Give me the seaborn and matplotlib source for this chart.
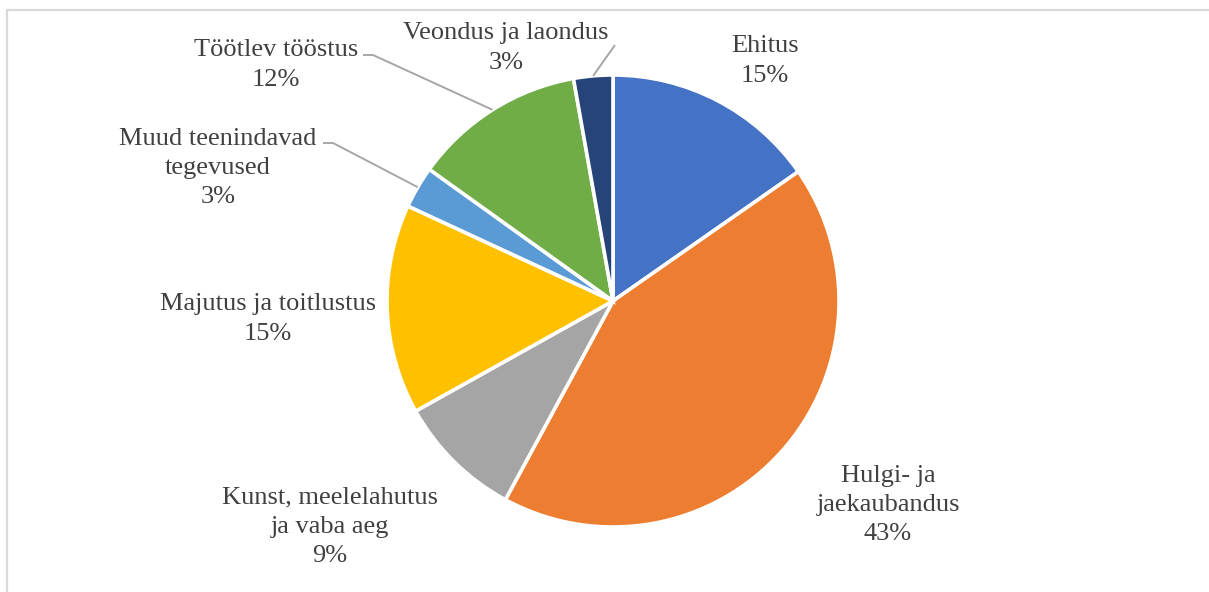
import numpy as np
import matplotlib
matplotlib.use("Agg")
import matplotlib.pyplot as plt
from matplotlib.patches import Rectangle
import seaborn as sns

# sector shares (%)
sectors = ["Ehitus", "Hulgi- ja\njaekaubandus", "Kunst, meelelahutus\nja vaba aeg",
           "Majutus ja toitlustus", "Muud teenindavad\ntegevused", "Töötlev tööstus",
           "Veondus ja laondus"]
shares = [15.3, 42.6, 9.0, 15.0, 3.0, 12.3, 2.8]
colors = ["#4472C4", "#ED7D31", "#A5A5A5", "#FFC000", "#5B9BD5", "#70AD47", "#264478"]

# label block centres in picture pixels (x, y from top)
label_pos = [(765, 61), (888, 505), (330, 527), (268, 319), (218, 168), (276, 65), (506, 48)]
# leader lines: index -> text-side end points (pixels from top)
leaders = {4: [(323, 143), (333, 143)], 5: [(363, 55), (373, 55)], 6: [(615, 45)]}

W, H = 1209, 592
sns.set_theme(style="white")
plt.rcParams["font.family"] = ["Liberation Serif", "DejaVu Serif"]

fig = plt.figure(figsize=(W / 100, H / 100), dpi=100)
ax = fig.add_axes([0, 0, 1, 1])

cx, cy, r = 613, H - 301, 226
wedges, _ = ax.pie(shares, colors=colors, startangle=90, counterclock=False,
                   center=(cx, cy), radius=r, frame=True,
                   wedgeprops=dict(edgecolor="white", linewidth=2.6))
ax.set_xlim(0, W)
ax.set_ylim(0, H)
ax.set_aspect("equal")
ax.axis("off")

for i, (name, val) in enumerate(zip(sectors, shares)):
    x, y = label_pos[i]
    ax.text(x, H - y, f"{name}\n{val:.0f}%", ha="center", va="center",
            multialignment="center", fontsize=19, color="#404040", linespacing=1.42)

for i, pts in leaders.items():
    w = wedges[i]
    mid = np.deg2rad((w.theta1 + w.theta2) / 2)
    ax_pt = (cx + r * np.cos(mid), cy + r * np.sin(mid))
    xs = [p[0] for p in pts] + [ax_pt[0]]
    ys = [H - p[1] for p in pts] + [ax_pt[1]]
    ax.plot(xs, ys, color="#A6A6A6", lw=1.4, solid_capstyle="butt")

ax.add_patch(Rectangle((7, -20), 1300, H - 10 + 20, fill=False,
                       edgecolor="#D9D9D9", lw=1.6, clip_on=False))

fig.savefig("out.png", dpi=100)
